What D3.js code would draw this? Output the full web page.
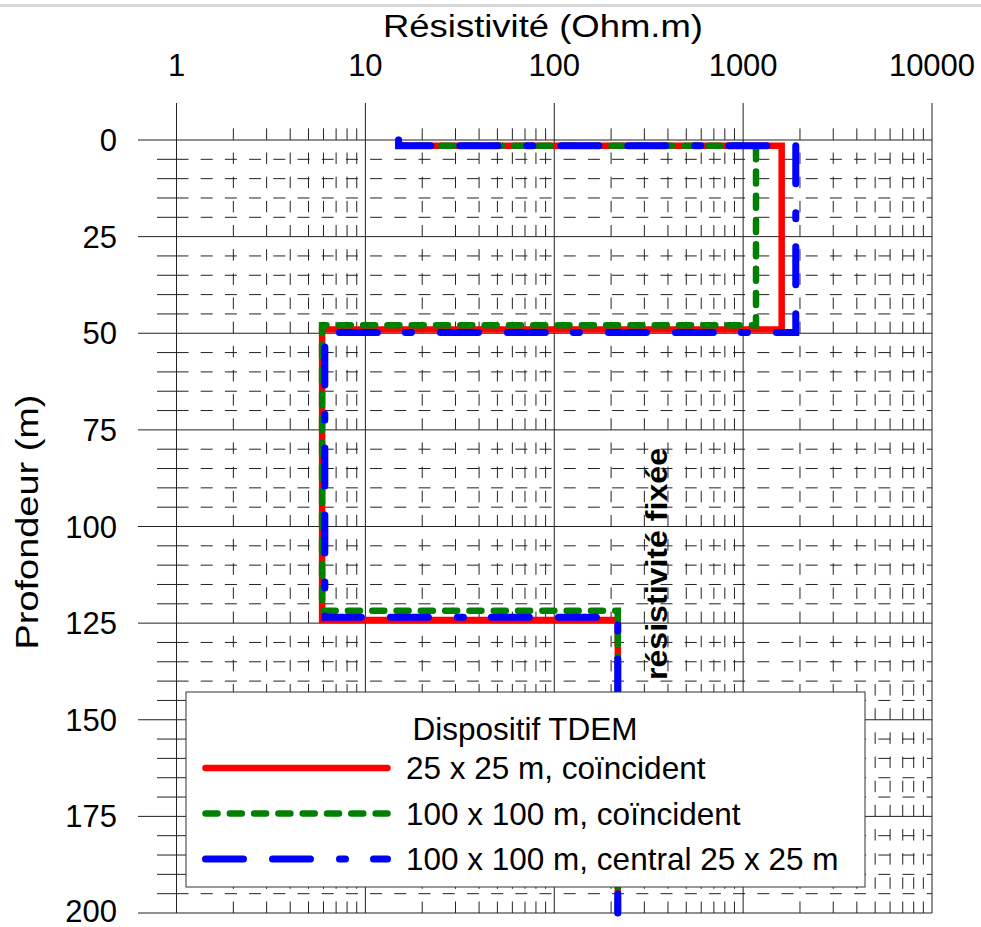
<!DOCTYPE html>
<html>
<head>
<meta charset="utf-8">
<script src="https://cdn.jsdelivr.net/npm/d3@7"></script>
<style>
  html, body { margin: 0; padding: 0; background: #fff; }
  svg { display: block; }
  text { font-family: "Liberation Sans", Arial, sans-serif; fill: #000; }
</style>
</head>
<body>
<script>
// ---------------- DATA ----------------
const xTickValues = [1, 10, 100, 1000, 10000];
const xTickLabels = ["1", "10", "100", "1000", "10000"];
const yTickValues = [0, 25, 50, 75, 100, 125, 150, 175, 200];
const yTickLabels = ["0", "25", "50", "75", "100", "125", "150", "175", "200"];

const seriesNames = ["25 x 25 m, coïncident", "100 x 100 m, coïncident", "100 x 100 m, central 25 x 25 m"];
// layer resistivities (Ohm.m) and interface depths (m)
const rho25Coinc   = [15, 1600, 5.9, 217];
const depth25Coinc = [0, 1.5, 49, 124.2, 200];
const rho100Coinc   = [15, 1170, 5.9, 217];
const depth100Coinc = [0, 1.5, 47.9, 121.8, 200];
const rho100Central   = [15, 1900, 6.1, 217];
const depth100Central = [0, 1.5, 49.8, 123.5, 200];

const legendTitle = "Dispositif TDEM";
const xTitle = "Résistivité (Ohm.m)";
const yTitle = "Profondeur (m)";
const noteText = "résistivité fixée";

// ---------------- LAYOUT ----------------
const W = 981, H = 927;
const svg = d3.select("body").append("svg").attr("width", W).attr("height", H);

// faint top border line
svg.append("rect").attr("x", 0).attr("y", 4).attr("width", W).attr("height", 3).attr("fill", "#d8d8d8");

const x = d3.scaleLog().domain([1, 10000]).range([176.5, 932]);
const y = d3.scaleLinear().domain([0, 200]).range([140, 913]);

const gridColor = "#222";
const grid = svg.append("g");

// minor values
const minorX = [];
[1, 10, 100, 1000].forEach(dec => { for (let m = 2; m <= 9; m++) minorX.push(dec * m); });
const minorY = d3.range(0, 201, 5).filter(v => v % 25 !== 0);

// minor vertical dashed lines (pattern anchored at bottom)
grid.selectAll("path.minx").data(minorX).enter().append("path")
  .attr("d", d => `M${x(d)},${y(200)}V${122}`)
  .attr("stroke", gridColor).attr("stroke-width", 1)
  .attr("stroke-dasharray", "11.5,12.66").attr("fill", "none");

// minor horizontal: solid tick outside + dashed line inside
grid.selectAll("path.minyt").data(minorY).enter().append("path")
  .attr("d", d => `M157,${y(d)}H${x(1)}`)
  .attr("stroke", gridColor).attr("stroke-width", 1);
grid.selectAll("path.miny").data(minorY).enter().append("path")
  .attr("d", d => `M${x(1)},${y(d)}H${x(10000)}`)
  .attr("stroke", gridColor).attr("stroke-width", 1)
  .attr("stroke-dasharray", "12,12.2").attr("fill", "none");

// major lines
grid.selectAll("path.majx").data(xTickValues).enter().append("path")
  .attr("d", d => `M${x(d)},103V${y(200)}`)
  .attr("stroke", gridColor).attr("stroke-width", 1);
grid.selectAll("path.majy").data(yTickValues).enter().append("path")
  .attr("d", d => `M138,${y(d)}H${x(10000)}`)
  .attr("stroke", gridColor).attr("stroke-width", 1);

// tick labels
svg.append("g").selectAll("text").data(xTickValues).enter().append("text")
  .attr("x", d => x(d)).attr("y", 76)
  .attr("text-anchor", "middle").attr("font-size", 31)
  .text((d, i) => xTickLabels[i]);
svg.append("g").selectAll("text").data(yTickValues).enter().append("text")
  .attr("x", 117).attr("y", d => Math.min(y(d) + 11, 922))
  .attr("text-anchor", "end").attr("font-size", 31)
  .text((d, i) => yTickLabels[i]);

// axis titles
svg.append("text").attr("x", 543).attr("y", 37)
  .attr("text-anchor", "middle").attr("font-size", 31)
  .attr("textLength", 320).attr("lengthAdjust", "spacingAndGlyphs")
  .text(xTitle);
svg.append("text").attr("transform", "translate(38,522) rotate(-90)")
  .attr("text-anchor", "middle").attr("font-size", 32)
  .attr("textLength", 255).attr("lengthAdjust", "spacingAndGlyphs")
  .text(yTitle);

// ---------------- SERIES ----------------
function steps(rho, depth) {
  const pts = [];
  rho.forEach((r, i) => { pts.push({ r, d: depth[i] }); pts.push({ r, d: depth[i + 1] }); });
  return pts;
}
const line = d3.line().x(p => x(p.r)).y(p => y(p.d));

const series = [
  { pts: steps(rho25Coinc, depth25Coinc), color: "#ff0000", dash: null, width: 6.5 },
  { pts: steps(rho100Coinc, depth100Coinc), color: "#008000", dash: "12,12.3", width: 6.5 },
  { pts: steps(rho100Central, depth100Central), color: "#0000ff", dash: "38,29,38,29,6,28", width: 7 }
];
const sg = svg.append("g");
series.forEach(s => {
  sg.append("path").attr("d", line(s.pts))
    .attr("fill", "none").attr("stroke", s.color).attr("stroke-width", s.width)
    .attr("stroke-linecap", "round").attr("stroke-linejoin", "miter")
    .attr("stroke-dasharray", s.dash);
});

// annotation
svg.append("text").attr("transform", "translate(667,564) rotate(-90)")
  .attr("text-anchor", "middle").attr("font-size", 29).attr("font-weight", "bold")
  .attr("textLength", 232).attr("lengthAdjust", "spacingAndGlyphs")
  .text(noteText);

// ---------------- LEGEND ----------------
const lg = svg.append("g");
lg.append("rect").attr("x", 186).attr("y", 692).attr("width", 679).attr("height", 195)
  .attr("fill", "#fff").attr("stroke", "#333").attr("stroke-width", 1);
lg.append("text").attr("x", 525).attr("y", 740).attr("text-anchor", "middle")
  .attr("font-size", 31.5).text(legendTitle);
const rowY = [768, 813.5, 859];
series.forEach((s, i) => {
  lg.append("path").attr("d", `M205.5,${rowY[i]}H387.5`)
    .attr("fill", "none").attr("stroke", s.color).attr("stroke-width", s.width)
    .attr("stroke-linecap", "round").attr("stroke-dasharray", s.dash);
  lg.append("text").attr("x", 406).attr("y", rowY[i] + 11)
    .attr("font-size", 31.5).text(seriesNames[i]);
});
</script>
</body>
</html>
